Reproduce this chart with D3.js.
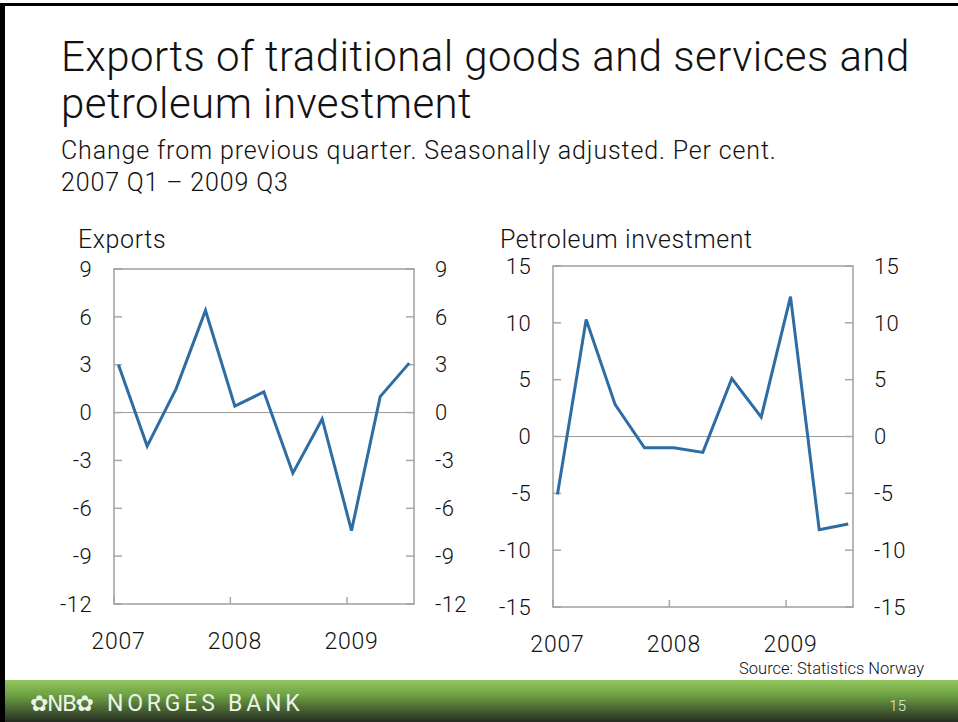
<!DOCTYPE html>
<html>
<head>
<meta charset="utf-8">
<script src="https://cdn.jsdelivr.net/npm/d3@7"></script>
<style>
  html, body { margin: 0; padding: 0; background: #fff; }
  svg text { font-family: Roboto, "Liberation Sans", sans-serif; font-weight: 300; }
</style>
</head>
<body>
<svg id="chart" width="958" height="722"></svg>
<script>
// ---- Data ----
const quarters = ["2007Q1","2007Q2","2007Q3","2007Q4","2008Q1","2008Q2","2008Q3","2008Q4","2009Q1","2009Q2","2009Q3"];
const exportsValues = [3.0, -2.1, 1.5, 6.4, 0.4, 1.3, -3.8, -0.4, -7.4, 1.0, 3.1];
const petroleumValues = [-5.1, 10.3, 2.8, -1.0, -1.0, -1.4, 5.1, 1.7, 12.3, -8.2, -7.7];
const yearLabels = ["2007", "2008", "2009"];
const exportsTicks = [9, 6, 3, 0, -3, -6, -9, -12];
const petroleumTicks = [15, 10, 5, 0, -5, -10, -15];
const titleLines = ["Exports of traditional goods and services and", "petroleum investment"];
const subtitleLines = ["Change from previous quarter. Seasonally adjusted. Per cent.", "2007 Q1 \u2013 2009 Q3"];

const parseQ = s => new Date(+s.slice(0, 4), (+s.slice(5) - 1) * 3, 15);
const dates = quarters.map(parseQ);

const svg = d3.select("#chart");

// ---- Slide frame ----
svg.append("rect").attr("x", 0).attr("y", 0).attr("width", 958).attr("height", 722).attr("fill", "#fff");
svg.append("rect").attr("x", 0).attr("y", 3).attr("width", 958).attr("height", 3).attr("fill", "#000");
svg.append("rect").attr("x", 0).attr("y", 3).attr("width", 5).attr("height", 719).attr("fill", "#000");

// ---- Titles ----
svg.append("g").selectAll("text").data(titleLines).join("text")
  .attr("x", 61).attr("y", (d, i) => 71 + i * 47)
  .attr("font-size", 42).style("letter-spacing", "0.45px").attr("fill", "#111").text(d => d);
svg.append("g").selectAll("text").data(subtitleLines).join("text")
  .attr("x", 61).attr("y", (d, i) => 159 + i * 32)
  .attr("font-size", 25).style("letter-spacing", "0.85px").attr("fill", "#111").text(d => d);

// ---- Panel builder ----
function panel(cfg) {
  const { x0, x1, y0, y1, domain, ticks, values, label, labelX } = cfg;
  const g = svg.append("g");
  const x = d3.scaleTime().domain([new Date(2007, 0, 1), new Date(2009, 6, 30)]).range([x0, x1]);
  const y = d3.scaleLinear().domain(domain).range([y1, y0]);

  g.append("text").attr("x", labelX).attr("y", 248).attr("font-size", 25)
    .style("letter-spacing", "0.6px").attr("fill", "#111").text(label);

  // zero line
  g.append("line").attr("x1", x0).attr("x2", x1).attr("y1", y(0)).attr("y2", y(0))
    .attr("stroke", "#9a9a9a").attr("stroke-width", 1);

  // inner y tick marks on both sides
  const tickG = g.append("g").attr("stroke", "#a8a8a8").attr("stroke-width", 1.5);
  tickG.selectAll("line.l").data(ticks).join("line").attr("class", "l")
    .attr("x1", x0).attr("x2", x0 + 8).attr("y1", d => y(d)).attr("y2", d => y(d));
  tickG.selectAll("line.r").data(ticks).join("line").attr("class", "r")
    .attr("x1", x1 - 8).attr("x2", x1).attr("y1", d => y(d)).attr("y2", d => y(d));
  // x tick marks at year boundaries
  const yearStarts = yearLabels.map(s => new Date(+s, 0, 1));
  tickG.selectAll("line.b").data(yearStarts).join("line").attr("class", "b")
    .attr("x1", d => x(d)).attr("x2", d => x(d)).attr("y1", y1).attr("y2", y1 - 7);

  // box
  g.append("rect").attr("x", x0).attr("y", y0).attr("width", x1 - x0).attr("height", y1 - y0)
    .attr("fill", "none").attr("stroke", "#a0a0a0").attr("stroke-width", 1.5);

  // y labels
  g.append("g").selectAll("text").data(ticks).join("text")
    .attr("x", x0 - 22).attr("y", d => y(d)).attr("dy", "0.35em")
    .attr("text-anchor", "end").attr("font-size", 22).style("letter-spacing", "0.4px")
    .attr("fill", "#111").text(d => d);
  g.append("g").selectAll("text").data(ticks).join("text")
    .attr("x", x1 + 21).attr("y", d => y(d)).attr("dy", "0.35em")
    .attr("text-anchor", "start").attr("font-size", 22).style("letter-spacing", "0.4px")
    .attr("fill", "#111").text(d => d);

  // year labels
  g.append("g").selectAll("text").data(yearLabels).join("text")
    .attr("x", d => x(new Date(+d, 0, 15))).attr("y", y1 + 45)
    .attr("text-anchor", "middle").attr("font-size", 23).style("letter-spacing", "0.8px")
    .attr("fill", "#111").text(d => d);

  // series
  const line = d3.line().x((d, i) => x(dates[i])).y(d => y(d));
  g.append("path").datum(values).attr("d", line)
    .attr("fill", "none").attr("stroke", "#2d6da3").attr("stroke-width", 3)
    .attr("stroke-linejoin", "miter");
}

panel({ x0: 114, x1: 414, y0: 269, y1: 604, domain: [-12, 9], ticks: exportsTicks,
        values: exportsValues, label: "Exports", labelX: 78 });
panel({ x0: 553, x1: 853, y0: 266, y1: 607, domain: [-15, 15], ticks: petroleumTicks,
        values: petroleumValues, label: "Petroleum investment", labelX: 500 });

// ---- Source ----
svg.append("text").attr("x", 924).attr("y", 674).attr("text-anchor", "end")
  .attr("font-size", 16.5).attr("fill", "#111").text("Source: Statistics Norway");

// ---- Footer band ----
const defs = svg.append("defs");
const grad = defs.append("linearGradient").attr("id", "band").attr("x1", 0).attr("y1", 0).attr("x2", 0).attr("y2", 1);
grad.append("stop").attr("offset", "0%").attr("stop-color", "#94c65e");
grad.append("stop").attr("offset", "35%").attr("stop-color", "#6fa243");
grad.append("stop").attr("offset", "100%").attr("stop-color", "#252d22");
svg.append("rect").attr("x", 5).attr("y", 680).attr("width", 953).attr("height", 42).attr("fill", "url(#band)");

svg.append("text").attr("x", 30).attr("y", 711).attr("font-size", 22).attr("fill", "#eef3e8")
  .style("font-family", "'DejaVu Sans', sans-serif").style("font-weight", 400).style("letter-spacing", "-1.5px")
  .text("\u273FNB\u273F");
svg.append("text").attr("x", 107).attr("y", 711).attr("font-size", 23).attr("fill", "#eef3e8")
  .style("font-weight", 400).style("letter-spacing", "3.8px").text("NORGES BANK");
svg.append("text").attr("x", 906).attr("y", 711).attr("text-anchor", "end").attr("font-size", 15)
  .attr("fill", "#e6eee0").text("15");
</script>
</body>
</html>
